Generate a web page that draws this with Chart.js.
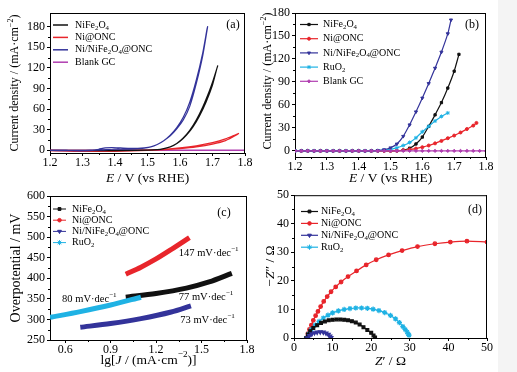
<!DOCTYPE html>
<html><head><meta charset="utf-8">
<script src="https://cdn.jsdelivr.net/npm/chart.js@4.4.1/dist/chart.umd.min.js"></script>
<style>
html,body{margin:0;padding:0;background:#f4f4f4;}
#fig{position:relative;width:498px;height:372px;background:#fff;}
canvas{position:absolute;}
</style></head><body>
<div id="fig">
<canvas id="pa" style="left:0;top:0;width:258px;height:186px" width="258" height="186"></canvas>
<canvas id="pb" style="left:258px;top:0;width:259px;height:186px" width="259" height="186"></canvas>
<canvas id="pc" style="left:0;top:186px;width:258px;height:186px" width="258" height="186"></canvas>
<canvas id="pd" style="left:258px;top:186px;width:259px;height:186px" width="259" height="186"></canvas>
</div>
<script>
// ---- (a) CV curves, [E, j] forward then reverse scan
const aNiFe = [[1.20,0],[1.30,0],[1.40,0],[1.50,0.3],[1.53,1],[1.55,2.5],[1.57,5],[1.59,10],[1.61,18],[1.63,29],[1.65,44],[1.67,63],[1.69,86],[1.70,99],[1.716,123],
  [1.714,120],[1.70,95],[1.68,70],[1.66,50],[1.64,34],[1.62,22],[1.60,13],[1.58,7],[1.56,3.5],[1.54,1.5],[1.50,0],[1.40,-0.5],[1.30,-0.3],[1.20,0]];
const aNiONC = [[1.20,0],[1.30,-0.8],[1.40,-0.5],[1.50,0.3],[1.55,1.5],[1.60,3.5],[1.65,6.5],[1.70,11],[1.74,16.5],[1.78,24.5],
  [1.775,22.5],[1.74,14],[1.70,9],[1.65,5],[1.60,2.5],[1.55,0.8],[1.50,-0.3],[1.40,-1.5],[1.30,-1.8],[1.20,-0.5]];
const aNiNiFe = [[1.20,0],[1.25,-0.3],[1.30,-0.5],[1.33,0],[1.35,1.5],[1.37,3.5],[1.39,4],[1.41,3.5],[1.44,2.8],[1.47,2.8],[1.49,3.5],[1.51,5],[1.53,8.5],[1.55,14],[1.57,21],[1.59,31],[1.61,44],[1.63,64],[1.65,97],[1.67,138],[1.685,180],
  [1.683,176],[1.67,142],[1.65,102],[1.63,70],[1.61,48],[1.59,33],[1.57,22],[1.55,14],[1.53,8.5],[1.51,5],[1.49,3],[1.46,2],[1.42,1.5],[1.39,1.5],[1.36,0.5],[1.30,-0.8],[1.25,-0.5],[1.20,-0.3]];
const aBlank = [[1.20,0],[1.80,0]];
const aXTicks = [1.2,1.3,1.4,1.5,1.6,1.7,1.8], aXMinor = [1.25,1.35,1.45,1.55,1.65,1.75];
const aYTicks = [0,30,60,90,120,150,180], aYMinor = [15,45,75,105,135,165];

// ---- (b) LSV curves
const bNiFe = [[1.20,0],[1.22,0],[1.24,0],[1.26,0],[1.28,0],[1.30,0],[1.32,0],[1.34,0],[1.36,0],[1.38,0],[1.40,0],[1.42,0],[1.44,0],[1.46,0],[1.48,0],[1.50,0],[1.52,0],
  [1.54,1],[1.56,3.5],[1.58,9],[1.60,18],[1.62,32],[1.64,47],[1.66,63],[1.68,82],[1.70,104],[1.715,126]];
const bNiONC = [[1.20,0],[1.22,0],[1.24,0],[1.26,0],[1.28,0],[1.30,0],[1.32,0],[1.34,0],[1.36,0],[1.38,0],[1.40,0],[1.42,0],[1.44,0],[1.46,0],[1.48,0],[1.50,0],
  [1.52,0.3],[1.54,0.8],[1.56,1.8],[1.58,3],[1.60,4.8],[1.62,7],[1.64,9.8],[1.66,13],[1.68,16.5],[1.70,20],[1.72,24],[1.74,28.5],[1.76,33],[1.77,36.5]];
const bNiNiFe = [[1.20,0],[1.22,0],[1.24,0],[1.26,0],[1.28,0],[1.30,0],[1.32,0],[1.34,0],[1.36,0],[1.38,0],[1.40,0],[1.42,0],[1.44,0],
  [1.46,0.5],[1.48,1.5],[1.50,4],[1.52,9],[1.54,19],[1.56,34],[1.58,51],[1.60,69],[1.62,88],[1.64,108],[1.66,129],[1.68,153],[1.69,171]];
const bRuO2 = [[1.20,0],[1.22,0],[1.24,0],[1.26,0],[1.28,0],[1.30,0],[1.32,0],[1.34,0],[1.36,0],[1.38,0],[1.40,0],[1.42,0],[1.44,0],
  [1.46,0.3],[1.48,1],[1.50,2],[1.52,4],[1.54,7],[1.56,11],[1.58,17],[1.60,25],[1.62,32],[1.64,39],[1.66,45],[1.68,49.5]];
const bBlank = [[1.20,0],[1.22,0],[1.24,0],[1.26,0],[1.28,0],[1.30,0],[1.32,0],[1.34,0],[1.36,0],[1.38,0],[1.40,0],[1.42,0],[1.44,0],[1.46,0],[1.48,0],[1.50,0],
  [1.52,0],[1.54,0],[1.56,0],[1.58,0],[1.60,0],[1.62,0],[1.64,0],[1.66,0],[1.68,0],[1.70,0],[1.72,0],[1.74,0],[1.76,0],[1.78,0],[1.80,0]];

// ---- (c) Tafel, [lg J, overpotential mV]
const cNiFe = [[1.0,354],[1.2,363],[1.4,376],[1.55,391],[1.7,412]];
const cNiONC = [[1.0,410],[1.1,427],[1.2,447],[1.3,470],[1.42,499]];
const cNiNiFe = [[0.7,281],[0.9,290],[1.1,302],[1.3,318],[1.43,333]];
const cRuO2 = [[0.5,305],[0.7,319],[0.9,335],[1.1,354]];
const cSlopes = [['147',1.35,462],['77',1.35,354],['73',1.36,298],['80',0.58,350]];
const cXTicks = [0.6,0.9,1.2,1.5,1.8], cXMinor = [0.75,1.05,1.35,1.65];
const cYTicks = [250,300,350,400,450,500,550,600], cYMinor = [275,325,375,425,475,525,575];

// ---- (d) Nyquist, [Z', -Z'']
const dNiFe = [[3.2,0],[3.6,1.2],[4.2,2.4],[5,3.5],[6,4.5],[7,5.3],[8,5.8],[9,6.2],[10,6.4],[11,6.5],[12,6.5],[13,6.4],[14,6.2],[15,5.9],[16,5.4],[17,4.7],[18,3.8],[19,2.8],[20,1.8],[20.6,0.9],[21,0.2]];
const dNiONC = [[3.2,0],[3.6,1.5],[4.0,3],[4.5,4.5],[5,6.2],[5.6,7.8],[6.2,9.3],[6.9,11],[7.7,12.8],[8.6,14.5],[9.6,16.2],[10.8,17.9],[12.2,19.6],[14,21.5],[16.2,23.5],[18.7,25.6],[21.3,27.4],[24.5,29.1],[28,30.6],[32,32],[36.5,33],[40.5,33.6],[44.8,33.9],[50,33.6]];
const dNiNiFe = [[3.5,0],[4,0.8],[4.6,1.4],[5.3,1.8],[6,2],[6.8,2.1],[7.6,2],[8.3,1.7],[8.9,1.2],[9.3,0.6],[9.6,0.1]];
const dRuO2 = [[3.2,0],[3.8,1.5],[4.5,3],[5.5,4.5],[6.5,5.8],[7.6,7],[8.8,8],[10,8.8],[11.5,9.5],[13,10],[14.5,10.3],[16,10.5],[17.5,10.5],[19,10.4],[20.5,10.1],[22,9.6],[23.5,8.9],[25,7.9],[26.3,6.7],[27.3,5.4],[28.2,4],[28.8,3],[29.3,2.1],[29.6,1.4],[29.8,1.0]];
const dTicks = [0,10,20,30,40,50], dMinor = [5,15,25,35,45];

const FONT = '"Liberation Serif", "Times New Roman", serif';
const C = {black:'#111111', red:'#e8252b', blue:'#33339a', cyan:'#1fb2e4', mag:'#b03eb0'};
const NIFE = [['NiFe'],['2','b'],['O'],['4','b']];
const NINIFE = [['Ni/NiFe'],['2','b'],['O'],['4','b'],['@ONC']];
const NIONC = [['Ni@ONC']];
const RUO2 = [['RuO'],['2','b']];
const BLANK = [['Blank GC']];

function drawRich(ctx, segs, x, y, size, align, rot) {
  ctx.save();
  ctx.translate(x, y);
  if (rot) ctx.rotate(rot);
  const parts = segs.map(([t, f]) => {
    const s = (f === 'b' || f === 'p') ? size * 0.68 : size;
    const font = (f === 'i' ? 'italic ' : '') + s + 'px ' + FONT;
    ctx.font = font;
    return {t, font, w: ctx.measureText(t).width, dy: f === 'b' ? size * 0.28 : f === 'p' ? -size * 0.38 : 0};
  });
  const total = parts.reduce((a, p) => a + p.w, 0);
  let cx = align === 'center' ? -total / 2 : 0;
  ctx.textBaseline = 'middle';
  ctx.textAlign = 'left';
  ctx.fillStyle = '#000';
  for (const p of parts) { ctx.font = p.font; ctx.fillText(p.t, cx, p.dy); cx += p.w; }
  ctx.restore();
}

const deco = {
  id: 'deco',
  afterDraw(chart, args, o) {
    const ctx = chart.ctx, a = chart.chartArea, sx = chart.scales.x, sy = chart.scales.y;
    ctx.save();
    ctx.strokeStyle = '#000'; ctx.lineWidth = 1;
    ctx.beginPath();
    ctx.moveTo(a.left, a.top + 0.5); ctx.lineTo(a.right, a.top + 0.5);
    ctx.moveTo(a.right - 0.5, a.top); ctx.lineTo(a.right - 0.5, a.bottom);
    // minor ticks
    o.minorX.forEach(v => { const p = Math.round(sx.getPixelForValue(v)) + 0.5; ctx.moveTo(p, a.bottom); ctx.lineTo(p, a.bottom + 2); });
    o.minorY.forEach(v => { const p = Math.round(sy.getPixelForValue(v)) + 0.5; ctx.moveTo(a.left, p); ctx.lineTo(a.left - 2, p); });
    ctx.stroke();
    // legend
    const L = o.legend;
    L.items.forEach((it, i) => {
      const y = a.top + L.y + i * L.dy;
      ctx.strokeStyle = it.c; ctx.fillStyle = it.c; ctx.lineWidth = L.lw;
      ctx.beginPath(); ctx.moveTo(a.left + L.x0, y); ctx.lineTo(a.left + L.x1, y); ctx.stroke();
      if (it.ps) {
        ctx.lineWidth = 1;
        Chart.helpers.drawPoint(ctx, {pointStyle: it.ps, radius: it.r || 2, rotation: it.rot || 0, borderWidth: 1}, a.left + (L.x0 + L.x1) / 2, y);
      }
      drawRich(ctx, it.t, a.left + L.tx, y, 10, 'left');
    });
    // panel label
    ctx.font = '12px ' + FONT; ctx.fillStyle = '#000'; ctx.textAlign = 'center'; ctx.textBaseline = 'middle';
    ctx.fillText(o.tag, a.right - o.tagDx, a.top + o.tagDy);
    // axis titles
    drawRich(ctx, o.xt, (a.left + a.right) / 2, o.xtY, 13.5, 'center');
    drawRich(ctx, o.yt, o.ytX, o.ytY, o.ytS || 12, 'center', -Math.PI / 2);
    (o.notes || []).forEach(([s, x, y]) => drawRich(ctx, [[s + ' mV·dec'], ['−1', 'p']], sx.getPixelForValue(x), sy.getPixelForValue(y), 10.5, 'left'));
    ctx.restore();
  }
};

function axis(min, max, ticks, size, isX, dec) {
  return {
    type: 'linear', min, max,
    afterBuildTicks: s => { s.ticks = ticks.map(v => ({value: v})); },
    afterFit: s => { if (isX) s.height = size; else s.width = size; },
    grid: {display: true, drawOnChartArea: false, drawTicks: true, tickLength: 3, color: '#000', lineWidth: 1},
    border: {display: true, color: '#000', width: 1},
    ticks: {color: '#000', font: {family: FONT, size: 12}, padding: isX ? 0 : 2, maxRotation: 0, autoSkip: false,
      callback: v => dec ? v.toFixed(dec) : String(v)}
  };
}

function ds(data, color, extra) {
  return Object.assign({data: data.map(([x, y]) => ({x, y})), showLine: true, borderColor: color, backgroundColor: color,
    borderWidth: 1.2, pointRadius: 0, tension: 0.3}, extra || {});
}

function make(id, datasets, pad, xs, ys, decoOpts) {
  new Chart(document.getElementById(id), {
    type: 'scatter',
    data: {datasets},
    options: {
      responsive: false, animation: false, events: [],
      layout: {padding: pad},
      scales: {x: xs, y: ys},
      plugins: {legend: {display: false}, tooltip: {enabled: false}, deco: decoOpts}
    },
    plugins: [deco]
  });
}

// (a)
make('pa', [
  ds(aNiNiFe, C.blue, {tension: 0.2}), ds(aNiFe, C.black, {tension: 0.2}), ds(aNiONC, C.red, {tension: 0.2}), ds(aBlank, C.mag, {borderWidth: 1.6, tension: 0})
], {left: 0, top: 13, right: 13, bottom: 0},
  axis(1.2, 1.8, aXTicks, 33, true, 1), axis(-4, 200, aYTicks, 50, false, 0),
  {minorX: aXMinor, minorY: aYMinor, tag: '(a)', tagDx: 12, tagDy: 12, xtY: 178, ytX: 15, ytY: 83,
   xt: [['E', 'i'], [' / V (vs RHE)']], yt: [['Current density / (mA·cm'], ['−2', 'p'], [')']],
   legend: {x0: 3, x1: 18, tx: 25, y: 12, dy: 12.4, lw: 1.5, items: [
     {c: C.black, t: NIFE}, {c: C.red, t: NIONC}, {c: C.blue, t: NINIFE}, {c: C.mag, t: BLANK}]}});

// (b)
const bp = (ps, r, rot) => ({pointRadius: r, pointStyle: ps, pointRotation: rot || 0, pointBorderWidth: 1, tension: 0.2});
make('pb', [
  ds(bBlank, C.mag, bp('rectRot', 1.6)), ds(bNiNiFe, C.blue, bp('triangle', 1.8, 180)), ds(bRuO2, C.cyan, bp('star', 2)),
  ds(bNiONC, C.red, bp('circle', 1.5)), ds(bNiFe, C.black, bp('rect', 1.6))
], {left: 0, top: 13, right: 31, bottom: 0},
  axis(1.2, 1.8, aXTicks, 29, true, 1), axis(-8, 180, aYTicks, 37, false, 0),
  {minorX: aXMinor, minorY: aYMinor, tag: '(b)', tagDx: 14, tagDy: 12, xtY: 178, ytX: 10, ytY: 81,
   xt: [['E', 'i'], [' / V (vs RHE)']], yt: [['Current density / (mA·cm'], ['−2', 'p'], [')']],
   legend: {x0: 5, x1: 23, tx: 28, y: 11.5, dy: 14.2, lw: 1.2, items: [
     {c: C.black, t: NIFE, ps: 'rect', r: 1.6}, {c: C.red, t: NIONC, ps: 'circle', r: 1.5},
     {c: C.blue, t: NINIFE, ps: 'triangle', r: 1.8, rot: 180}, {c: C.cyan, t: RUO2, ps: 'star', r: 2},
     {c: C.mag, t: BLANK, ps: 'rectRot', r: 1.6}]}});

// (c)
const cl = {borderWidth: 5, tension: 0.3, borderCapStyle: 'butt'};
make('pc', [
  ds(cRuO2, C.cyan, cl), ds(cNiNiFe, C.blue, cl), ds(cNiONC, C.red, cl), ds(cNiFe, C.black, cl)
], {left: 0, top: 10, right: 11, bottom: 0},
  axis(0.5, 1.8, cXTicks, 32, true, 1), axis(250, 600, cYTicks, 50, false, 0),
  {minorX: cXMinor, minorY: cYMinor, tag: '(c)', tagDx: 23, tagDy: 17, xtY: 174, ytX: 16, ytY: 82, ytS: 14,
   xt: [['lg['], ['J', 'i'], [' / (mA·cm'], ['−2', 'p'], [')]']], yt: [['Overpotential / mV']],
   notes: cSlopes,
   legend: {x0: 3, x1: 16, tx: 22, y: 13, dy: 11.2, lw: 1, items: [
     {c: C.black, t: NIFE, ps: 'rect', r: 2}, {c: C.red, t: NIONC, ps: 'circle', r: 1.8},
     {c: C.blue, t: NINIFE, ps: 'triangle', r: 2.2, rot: 180}, {c: C.cyan, t: RUO2, ps: 'star', r: 2.5}]}});

// (d)
const dp = (ps, r, rot) => ({pointRadius: r, pointStyle: ps, pointRotation: rot || 0, pointBorderWidth: 1.2, tension: 0.3});
make('pd', [
  ds(dNiNiFe, C.blue, dp('triangle', 2.2, 180)), ds(dNiFe, C.black, dp('rect', 2)),
  ds(dRuO2, C.cyan, dp('star', 2.6)), ds(dNiONC, C.red, dp('circle', 1.8))
], {left: 0, top: 9, right: 30, bottom: 0},
  axis(0, 50, dTicks, 34, true, 0), axis(0, 50, dTicks, 36, false, 0),
  {minorX: dMinor, minorY: dMinor, tag: '(d)', tagDx: 12, tagDy: 15, xtY: 175, ytX: 12, ytY: 80, ytS: 13.5,
   xt: [['Z', 'i'], ['′ / Ω']], yt: [['−'], ['Z', 'i'], ['″ / Ω']],
   legend: {x0: 7, x1: 24, tx: 27, y: 16.3, dy: 11.9, lw: 1.2, items: [
     {c: C.black, t: NIFE, ps: 'rect', r: 2}, {c: C.red, t: NIONC, ps: 'circle', r: 1.8},
     {c: C.blue, t: NINIFE, ps: 'triangle', r: 2.2, rot: 180}, {c: C.cyan, t: RUO2, ps: 'star', r: 2.6}]}});
</script>
</body></html>
